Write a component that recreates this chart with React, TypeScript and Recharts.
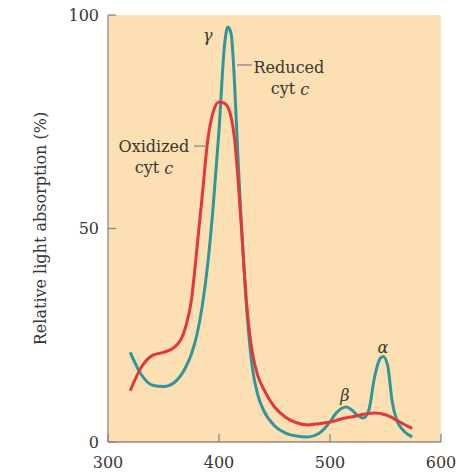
import { LineChart, Line, XAxis, YAxis, ReferenceArea, ReferenceLine, ReferenceDot } from 'recharts';

// wavelength (nm)
const wavelengths = [
    320, 330, 340, 350, 360, 370, 375, 380, 385, 390, 395, 400, 405, 408, 411, 414, 417, 420, 425, 430,
    435, 440, 450, 460, 470, 480, 490, 500, 505, 510, 515, 520, 525, 530, 535, 540, 545, 548, 552, 556,
    560, 565, 570, 574,
];

// relative absorption (%), reduced cyt c
const reduced = [
    21, 15.8, 13.3, 13, 14, 17.5, 20.5, 25, 32, 42, 56, 73, 93, 97.2, 95.5, 84, 67, 52, 31, 17.5,
    11, 7.5, 3.8, 2.1, 1.4, 1.2, 2, 4.7, 6.6, 7.8, 8.2, 7.4, 6.2, 5.6, 7.5, 15, 19.5, 20, 17.8, 9.5,
    5.2, 3, 1.8, 1.2,
];

// relative absorption (%), oxidized cyt c
const oxidized = [
    12, 17.5, 20.3, 21, 22.2, 27, 33, 45, 58, 71, 77.5, 79.6, 79.3, 78.4, 76, 71, 62, 51, 32, 21,
    15.5, 12.5, 8.2, 5.8, 4.5, 4, 4.3, 4.7, 5, 5.4, 5.7, 5.9, 6.2, 6.5, 6.7, 6.8, 6.7, 6.5, 6.2, 5.7,
    5.1, 4.4, 3.7, 3.2,
];

const xTicks = [300, 400, 500, 600];
const yTicks = [0, 50, 100];

const data = wavelengths.map((nm, i) => ({ nm, reduced: reduced[i], oxidized: oxidized[i] }));

const FONT = '"DejaVu Serif", serif';
const INK = '#3b3430';
const AXIS = '#8c8680';

type Note = { x: number; y: number; text: string; italic?: boolean };

const notes: Note[] = [
    { x: 390, y: 95.3, text: 'γ', italic: true },
    { x: 463, y: 87.8, text: 'Reduced' },
    { x: 341.4, y: 69.3, text: 'Oxidized' },
    { x: 547.7, y: 22.2, text: 'α', italic: true },
    { x: 513.5, y: 11, text: 'β', italic: true },
];

const cytNotes = [
    { x: 464, y: 82.7 },
    { x: 341.4, y: 64.2 },
];

const leaders = [
    { x1: 416.2, x2: 429.7, y: 88.3 },
    { x1: 377.5, x2: 389.2, y: 69.3 },
];

const App = () => {
    return (
        <div style={{ position: 'absolute', left: 0, top: 0, background: '#fff' }}>
            <LineChart width={470} height={474} data={data} margin={{ top: 15, right: 29, left: 0, bottom: 0 }}>
                <ReferenceArea x1={300} x2={600} y1={0} y2={100} fill="#fcdfb3" fillOpacity={1} stroke="none" />
                <XAxis
                    dataKey="nm"
                    type="number"
                    domain={[300, 600]}
                    ticks={xTicks}
                    height={32}
                    tickSize={-8}
                    tickMargin={23}
                    axisLine={{ stroke: AXIS, strokeWidth: 1.3 }}
                    tickLine={{ stroke: AXIS, strokeWidth: 1.3 }}
                    tick={{ fill: INK, fontSize: 16, fontFamily: FONT }}
                />
                <YAxis
                    type="number"
                    domain={[0, 100]}
                    ticks={yTicks}
                    width={108}
                    tickSize={-8}
                    tickMargin={17}
                    axisLine={{ stroke: AXIS, strokeWidth: 1.3 }}
                    tickLine={{ stroke: AXIS, strokeWidth: 1.3 }}
                    tick={{ fill: INK, fontSize: 16, fontFamily: FONT }}
                    label={{
                        content: ({ viewBox }: any) => {
                            const cx = 40;
                            const cy = viewBox.y + viewBox.height / 2;
                            return (
                                <text
                                    x={cx}
                                    y={cy}
                                    transform={`rotate(-90, ${cx}, ${cy})`}
                                    textAnchor="middle"
                                    dominantBaseline="central"
                                    fill={INK}
                                    fontSize={16}
                                    fontFamily={FONT}
                                >
                                    Relative light absorption (%)
                                </text>
                            );
                        },
                    }}
                />
                <Line
                    type="monotone"
                    dataKey="reduced"
                    stroke="#2f979c"
                    strokeWidth={3}
                    dot={false}
                    isAnimationActive={false}
                />
                <Line
                    type="monotone"
                    dataKey="oxidized"
                    stroke="#e1383d"
                    strokeWidth={3}
                    dot={false}
                    isAnimationActive={false}
                />
                {leaders.map((l, i) => (
                    <ReferenceLine
                        key={'l' + i}
                        segment={[
                            { x: l.x1, y: l.y },
                            { x: l.x2, y: l.y },
                        ]}
                        stroke={AXIS}
                        strokeWidth={1.3}
                    />
                ))}
                {notes.map((n, i) => (
                    <ReferenceDot
                        key={'n' + i}
                        x={n.x}
                        y={n.y}
                        r={0}
                        shape={(p: any) => (
                            <text
                                x={p.cx}
                                y={p.cy}
                                textAnchor="middle"
                                dominantBaseline="central"
                                fill={INK}
                                fontSize={16}
                                fontStyle={n.italic ? 'italic' : 'normal'}
                                fontFamily={FONT}
                            >
                                {n.text}
                            </text>
                        )}
                    />
                ))}
                {cytNotes.map((n, i) => (
                    <ReferenceDot
                        key={'c' + i}
                        x={n.x}
                        y={n.y}
                        r={0}
                        shape={(p: any) => (
                            <text
                                x={p.cx}
                                y={p.cy}
                                textAnchor="middle"
                                dominantBaseline="central"
                                fill={INK}
                                fontSize={16}
                                fontFamily={FONT}
                            >
                                cyt <tspan fontStyle="italic">c</tspan>
                            </text>
                        )}
                    />
                ))}
            </LineChart>
        </div>
    );
};

export default App;
